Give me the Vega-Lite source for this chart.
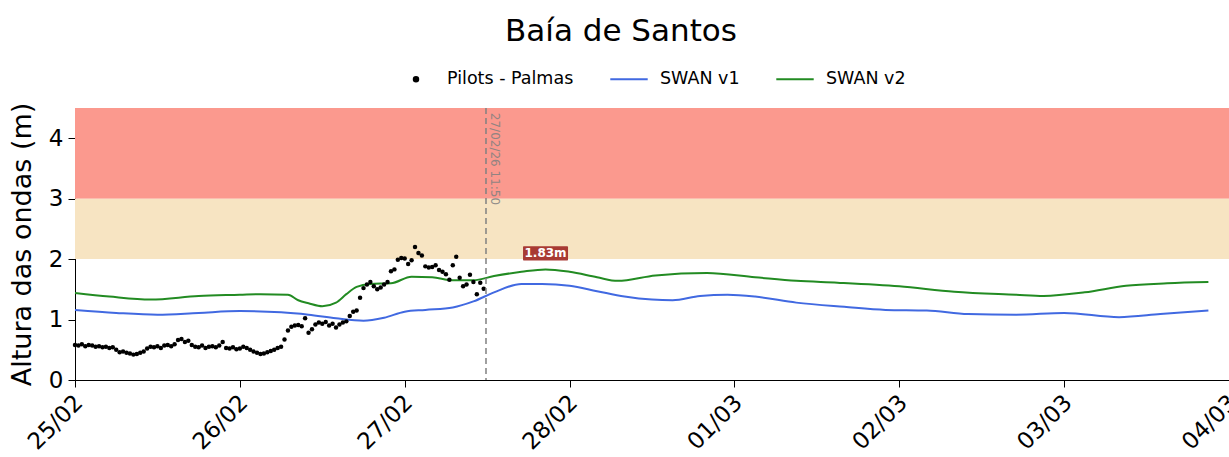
{
  "$schema": "https://vega.github.io/schema/vega-lite/v6.json",
  "width": 1154,
  "height": 272,
  "autosize": {"type": "none"},
  "padding": {"left": 75, "top": 108, "right": 0, "bottom": 77},
  "title": {"text": "Baía de Santos", "fontSize": 31, "font": "DejaVu Sans", "fontWeight": "normal", "color": "black", "anchor": "middle", "frame": "group", "dx": -31, "dy": 33, "offset": 20, "baseline": "alphabetic"},
  "config": {
    "view": {"stroke": "black", "strokeWidth": 1},
    "font": "DejaVu Sans",
    "axis": {"labelFont": "DejaVu Sans", "titleFont": "DejaVu Sans", "labelColor": "black", "titleColor": "black", "domainColor": "black", "tickColor": "black", "grid": false, "labelFontSize": 23, "titleFontSize": 27, "titleFontWeight": "normal", "tickSize": 7, "tickWidth": 1, "domainWidth": 1, "labelOverlap": false, "labelFlush": false, "labelBound": false},
    "axisY": {"labelPadding": 5, "titlePadding": 12},
    "axisX": {"labelAngle": -45, "labelAlign": "right", "labelBaseline": "top", "labelPadding": 4, "labelOffset": -4}
  },
  "datasets": {
    "obs": [
      {"t": "2026-02-25T00:00", "v": 0.58}, {"t": "2026-02-25T00:30", "v": 0.57}, {"t": "2026-02-25T01:00", "v": 0.59}, {"t": "2026-02-25T01:30", "v": 0.56},
      {"t": "2026-02-25T02:00", "v": 0.58}, {"t": "2026-02-25T02:30", "v": 0.57}, {"t": "2026-02-25T03:00", "v": 0.55}, {"t": "2026-02-25T03:30", "v": 0.56},
      {"t": "2026-02-25T04:00", "v": 0.54}, {"t": "2026-02-25T04:30", "v": 0.55}, {"t": "2026-02-25T05:00", "v": 0.53}, {"t": "2026-02-25T05:30", "v": 0.54},
      {"t": "2026-02-25T06:00", "v": 0.50}, {"t": "2026-02-25T06:30", "v": 0.46}, {"t": "2026-02-25T07:00", "v": 0.47}, {"t": "2026-02-25T07:30", "v": 0.45},
      {"t": "2026-02-25T08:00", "v": 0.44}, {"t": "2026-02-25T08:30", "v": 0.42}, {"t": "2026-02-25T09:00", "v": 0.43}, {"t": "2026-02-25T09:30", "v": 0.45},
      {"t": "2026-02-25T10:00", "v": 0.47}, {"t": "2026-02-25T10:30", "v": 0.52}, {"t": "2026-02-25T11:00", "v": 0.55}, {"t": "2026-02-25T11:30", "v": 0.54},
      {"t": "2026-02-25T12:00", "v": 0.56}, {"t": "2026-02-25T12:30", "v": 0.53}, {"t": "2026-02-25T13:00", "v": 0.57}, {"t": "2026-02-25T13:30", "v": 0.58},
      {"t": "2026-02-25T14:00", "v": 0.56}, {"t": "2026-02-25T14:30", "v": 0.59}, {"t": "2026-02-25T15:00", "v": 0.66}, {"t": "2026-02-25T15:30", "v": 0.68},
      {"t": "2026-02-25T16:00", "v": 0.63}, {"t": "2026-02-25T16:30", "v": 0.65}, {"t": "2026-02-25T17:00", "v": 0.58}, {"t": "2026-02-25T17:30", "v": 0.55},
      {"t": "2026-02-25T18:00", "v": 0.54}, {"t": "2026-02-25T18:30", "v": 0.57}, {"t": "2026-02-25T19:00", "v": 0.53}, {"t": "2026-02-25T19:30", "v": 0.55},
      {"t": "2026-02-25T20:00", "v": 0.56}, {"t": "2026-02-25T20:30", "v": 0.54}, {"t": "2026-02-25T21:00", "v": 0.57}, {"t": "2026-02-25T21:30", "v": 0.63},
      {"t": "2026-02-25T22:00", "v": 0.53}, {"t": "2026-02-25T22:30", "v": 0.52}, {"t": "2026-02-25T23:00", "v": 0.54}, {"t": "2026-02-25T23:30", "v": 0.51},
      {"t": "2026-02-26T00:00", "v": 0.52}, {"t": "2026-02-26T00:30", "v": 0.55}, {"t": "2026-02-26T01:00", "v": 0.53}, {"t": "2026-02-26T01:30", "v": 0.50},
      {"t": "2026-02-26T02:00", "v": 0.47}, {"t": "2026-02-26T02:30", "v": 0.45}, {"t": "2026-02-26T03:00", "v": 0.43}, {"t": "2026-02-26T03:30", "v": 0.44},
      {"t": "2026-02-26T04:00", "v": 0.46}, {"t": "2026-02-26T04:30", "v": 0.48}, {"t": "2026-02-26T05:00", "v": 0.50}, {"t": "2026-02-26T05:30", "v": 0.53},
      {"t": "2026-02-26T06:00", "v": 0.55}, {"t": "2026-02-26T06:30", "v": 0.67}, {"t": "2026-02-26T07:00", "v": 0.82}, {"t": "2026-02-26T07:30", "v": 0.88},
      {"t": "2026-02-26T08:00", "v": 0.90}, {"t": "2026-02-26T08:30", "v": 0.91}, {"t": "2026-02-26T09:00", "v": 0.89}, {"t": "2026-02-26T09:30", "v": 1.02},
      {"t": "2026-02-26T10:00", "v": 0.78}, {"t": "2026-02-26T10:30", "v": 0.84}, {"t": "2026-02-26T11:00", "v": 0.92}, {"t": "2026-02-26T11:30", "v": 0.95},
      {"t": "2026-02-26T12:00", "v": 0.93}, {"t": "2026-02-26T12:30", "v": 0.96}, {"t": "2026-02-26T13:00", "v": 0.90}, {"t": "2026-02-26T13:30", "v": 0.93},
      {"t": "2026-02-26T14:00", "v": 0.87}, {"t": "2026-02-26T14:30", "v": 0.92}, {"t": "2026-02-26T15:00", "v": 0.95}, {"t": "2026-02-26T15:30", "v": 0.97},
      {"t": "2026-02-26T16:00", "v": 1.06}, {"t": "2026-02-26T16:30", "v": 1.13}, {"t": "2026-02-26T17:00", "v": 1.15}, {"t": "2026-02-26T17:30", "v": 1.36},
      {"t": "2026-02-26T18:00", "v": 1.52}, {"t": "2026-02-26T18:30", "v": 1.58}, {"t": "2026-02-26T19:00", "v": 1.62}, {"t": "2026-02-26T19:30", "v": 1.55},
      {"t": "2026-02-26T20:00", "v": 1.50}, {"t": "2026-02-26T20:30", "v": 1.53}, {"t": "2026-02-26T21:00", "v": 1.58}, {"t": "2026-02-26T21:30", "v": 1.62},
      {"t": "2026-02-26T22:00", "v": 1.80}, {"t": "2026-02-26T22:30", "v": 1.83}, {"t": "2026-02-26T23:00", "v": 1.99}, {"t": "2026-02-26T23:30", "v": 2.02},
      {"t": "2026-02-27T00:00", "v": 2.01}, {"t": "2026-02-27T00:30", "v": 1.92}, {"t": "2026-02-27T01:00", "v": 1.98}, {"t": "2026-02-27T01:30", "v": 2.20},
      {"t": "2026-02-27T02:00", "v": 2.10}, {"t": "2026-02-27T02:30", "v": 2.06}, {"t": "2026-02-27T03:00", "v": 1.88}, {"t": "2026-02-27T03:30", "v": 1.86},
      {"t": "2026-02-27T04:00", "v": 1.87}, {"t": "2026-02-27T04:30", "v": 1.90}, {"t": "2026-02-27T05:00", "v": 1.82}, {"t": "2026-02-27T05:30", "v": 1.79},
      {"t": "2026-02-27T06:00", "v": 1.75}, {"t": "2026-02-27T06:30", "v": 1.66}, {"t": "2026-02-27T07:00", "v": 1.90}, {"t": "2026-02-27T07:30", "v": 2.04},
      {"t": "2026-02-27T08:00", "v": 1.69}, {"t": "2026-02-27T08:30", "v": 1.55}, {"t": "2026-02-27T09:00", "v": 1.58}, {"t": "2026-02-27T09:30", "v": 1.74},
      {"t": "2026-02-27T10:00", "v": 1.62}, {"t": "2026-02-27T10:30", "v": 1.42}, {"t": "2026-02-27T11:00", "v": 1.61}, {"t": "2026-02-27T11:30", "v": 1.51}
    ],
    "v1": [
      {"t": "2026-02-25T00:00", "v": 1.16}, {"t": "2026-02-25T06:00", "v": 1.11}, {"t": "2026-02-25T12:00", "v": 1.08}, {"t": "2026-02-25T18:00", "v": 1.11},
      {"t": "2026-02-26T00:00", "v": 1.14}, {"t": "2026-02-26T06:00", "v": 1.12}, {"t": "2026-02-26T10:00", "v": 1.08}, {"t": "2026-02-26T14:00", "v": 1.02},
      {"t": "2026-02-26T18:00", "v": 0.98}, {"t": "2026-02-26T21:00", "v": 1.03}, {"t": "2026-02-27T00:00", "v": 1.13}, {"t": "2026-02-27T03:00", "v": 1.16},
      {"t": "2026-02-27T07:00", "v": 1.20}, {"t": "2026-02-27T10:00", "v": 1.30}, {"t": "2026-02-27T13:00", "v": 1.45}, {"t": "2026-02-27T17:00", "v": 1.59},
      {"t": "2026-02-27T20:00", "v": 1.59}, {"t": "2026-02-28T00:00", "v": 1.56}, {"t": "2026-02-28T04:00", "v": 1.47}, {"t": "2026-02-28T08:00", "v": 1.38},
      {"t": "2026-02-28T12:00", "v": 1.33}, {"t": "2026-02-28T15:00", "v": 1.32}, {"t": "2026-02-28T19:00", "v": 1.39}, {"t": "2026-02-28T23:00", "v": 1.41},
      {"t": "2026-03-01T03:00", "v": 1.38}, {"t": "2026-03-01T09:00", "v": 1.28}, {"t": "2026-03-01T16:00", "v": 1.21}, {"t": "2026-03-01T22:00", "v": 1.16},
      {"t": "2026-03-02T04:00", "v": 1.15}, {"t": "2026-03-02T10:00", "v": 1.09}, {"t": "2026-03-02T17:00", "v": 1.08}, {"t": "2026-03-03T00:00", "v": 1.11},
      {"t": "2026-03-03T08:00", "v": 1.04}, {"t": "2026-03-03T14:00", "v": 1.09}, {"t": "2026-03-03T21:00", "v": 1.15}
    ],
    "v2": [
      {"t": "2026-02-25T00:00", "v": 1.44}, {"t": "2026-02-25T05:00", "v": 1.38}, {"t": "2026-02-25T11:00", "v": 1.33}, {"t": "2026-02-25T18:00", "v": 1.39},
      {"t": "2026-02-26T00:00", "v": 1.41}, {"t": "2026-02-26T03:00", "v": 1.42}, {"t": "2026-02-26T07:00", "v": 1.41}, {"t": "2026-02-26T08:30", "v": 1.32},
      {"t": "2026-02-26T10:00", "v": 1.27}, {"t": "2026-02-26T12:00", "v": 1.22}, {"t": "2026-02-26T14:00", "v": 1.28}, {"t": "2026-02-26T15:30", "v": 1.42},
      {"t": "2026-02-26T17:00", "v": 1.54}, {"t": "2026-02-26T19:00", "v": 1.59}, {"t": "2026-02-26T22:00", "v": 1.60}, {"t": "2026-02-27T01:00", "v": 1.71},
      {"t": "2026-02-27T04:00", "v": 1.70}, {"t": "2026-02-27T07:00", "v": 1.65}, {"t": "2026-02-27T10:00", "v": 1.65}, {"t": "2026-02-27T13:00", "v": 1.72},
      {"t": "2026-02-27T17:00", "v": 1.79}, {"t": "2026-02-27T20:30", "v": 1.83}, {"t": "2026-02-28T00:00", "v": 1.79}, {"t": "2026-02-28T04:00", "v": 1.70},
      {"t": "2026-02-28T07:00", "v": 1.64}, {"t": "2026-02-28T12:30", "v": 1.73}, {"t": "2026-02-28T20:00", "v": 1.77}, {"t": "2026-03-01T03:00", "v": 1.70},
      {"t": "2026-03-01T09:00", "v": 1.64}, {"t": "2026-03-01T15:00", "v": 1.61}, {"t": "2026-03-02T00:00", "v": 1.55}, {"t": "2026-03-02T08:00", "v": 1.46},
      {"t": "2026-03-02T17:00", "v": 1.41}, {"t": "2026-03-02T21:00", "v": 1.39}, {"t": "2026-03-03T03:00", "v": 1.45}, {"t": "2026-03-03T09:00", "v": 1.56},
      {"t": "2026-03-03T15:00", "v": 1.60}, {"t": "2026-03-03T21:00", "v": 1.62}
    ],
    "now": [{"t": "2026-02-27T11:50", "lab": "27/02/26 11:50", "top": 4.42}],
    "peak": [{"t": "2026-02-27T20:30", "v": 1.83, "lab": "1.83m"}]
  },
  "layer": [
    {
      "data": {"values": [{"lo": 3, "hi": 4.5}]},
      "mark": {"type": "rect", "color": "#FB998E"},
      "encoding": {
        "y": {"field": "lo", "type": "quantitative", "scale": {"domain": [0, 4.5], "nice": false}, "axis": {"values": [0, 1, 2, 3, 4], "format": "d", "title": "Altura das ondas (m)"}},
        "y2": {"field": "hi"}
      }
    },
    {
      "data": {"values": [{"lo": 2, "hi": 3}]},
      "mark": {"type": "rect", "color": "#F7E4C2"},
      "encoding": {
        "y": {"field": "lo", "type": "quantitative"},
        "y2": {"field": "hi"}
      }
    },
    {
      "data": {"name": "v1"},
      "mark": {"type": "line", "interpolate": "monotone", "strokeWidth": 2},
      "encoding": {
        "x": {"field": "t", "type": "temporal", "title": null,
              "scale": {"domain": [{"year": 2026, "month": "feb", "date": 25}, {"year": 2026, "month": "mar", "date": 4}]},
              "axis": {"format": "%d/%m", "tickCount": {"interval": "day", "step": 1}}},
        "y": {"field": "v", "type": "quantitative", "title": "Altura das ondas (m)"},
        "color": {"datum": "SWAN v1", "type": "nominal",
          "scale": {"domain": ["Pilots - Palmas", "SWAN v1", "SWAN v2"], "range": ["black", "royalblue", "forestgreen"]},
          "legend": {"orient": "none", "direction": "horizontal", "columns": 3, "legendX": 321, "legendY": -49, "title": null,
            "labelFontSize": 17.5, "labelFont": "DejaVu Sans", "labelColor": "black", "symbolSize": 1400, "labelOffset": 11, "columnPadding": 32,
            "symbolStrokeWidth": 2, "symbolType": "stroke",
            "encode": {"symbols": {"update": {
              "shape": {"signal": "datum.value === 'Pilots - Palmas' ? 'circle' : 'stroke'"},
              "size": {"signal": "datum.value === 'Pilots - Palmas' ? 20 : 1400"},
              "fill": {"signal": "datum.value === 'Pilots - Palmas' ? 'black' : 'transparent'"},
              "stroke": {"signal": "datum.value === 'Pilots - Palmas' ? 'transparent' : (datum.value === 'SWAN v1' ? 'royalblue' : 'forestgreen')"},
              "strokeWidth": {"value": 2},
              "opacity": {"value": 1}
            }}}
          }}
      }
    },
    {
      "data": {"name": "v2"},
      "mark": {"type": "line", "interpolate": "monotone", "strokeWidth": 2},
      "encoding": {
        "x": {"field": "t", "type": "temporal", "title": null},
        "y": {"field": "v", "type": "quantitative", "title": "Altura das ondas (m)"},
        "color": {"datum": "SWAN v2", "type": "nominal"}
      }
    },
    {
      "data": {"name": "obs"},
      "mark": {"type": "point", "filled": true, "size": 20, "opacity": 1},
      "encoding": {
        "x": {"field": "t", "type": "temporal", "title": null},
        "y": {"field": "v", "type": "quantitative", "title": "Altura das ondas (m)"},
        "color": {"datum": "Pilots - Palmas", "type": "nominal"}
      }
    },
    {
      "data": {"name": "now"},
      "mark": {"type": "rule", "color": "#808080", "strokeWidth": 1.5, "strokeDash": [6, 4]},
      "encoding": {
        "x": {"field": "t", "type": "temporal", "title": null}
      }
    },
    {
      "data": {"name": "now"},
      "mark": {"type": "text", "color": "#808080", "opacity": 0.85, "fontSize": 12, "angle": 90, "align": "left", "baseline": "bottom", "xOffset": 2},
      "encoding": {
        "x": {"field": "t", "type": "temporal", "title": null},
        "y": {"field": "top", "type": "quantitative", "title": "Altura das ondas (m)"},
        "text": {"field": "lab"}
      }
    },
    {
      "data": {"name": "peak"},
      "mark": {"type": "point", "filled": true, "shape": "M-1.45,-0.47H1.45Q1.5,-0.47 1.5,-0.42V0.42Q1.5,0.47 1.45,0.47H-1.45Q-1.5,0.47 -1.5,0.42V-0.42Q-1.5,-0.47 -1.45,-0.47Z", "size": 900, "color": "#a3302b", "opacity": 0.95, "yOffset": -16},
      "encoding": {
        "x": {"field": "t", "type": "temporal", "title": null},
        "y": {"field": "v", "type": "quantitative", "title": "Altura das ondas (m)"}
      }
    },
    {
      "data": {"name": "peak"},
      "mark": {"type": "text", "color": "white", "fontSize": 12, "fontWeight": "bold", "align": "center", "baseline": "middle", "yOffset": -16},
      "encoding": {
        "x": {"field": "t", "type": "temporal", "title": null},
        "y": {"field": "v", "type": "quantitative", "title": "Altura das ondas (m)"},
        "text": {"field": "lab"}
      }
    }
  ]
}
